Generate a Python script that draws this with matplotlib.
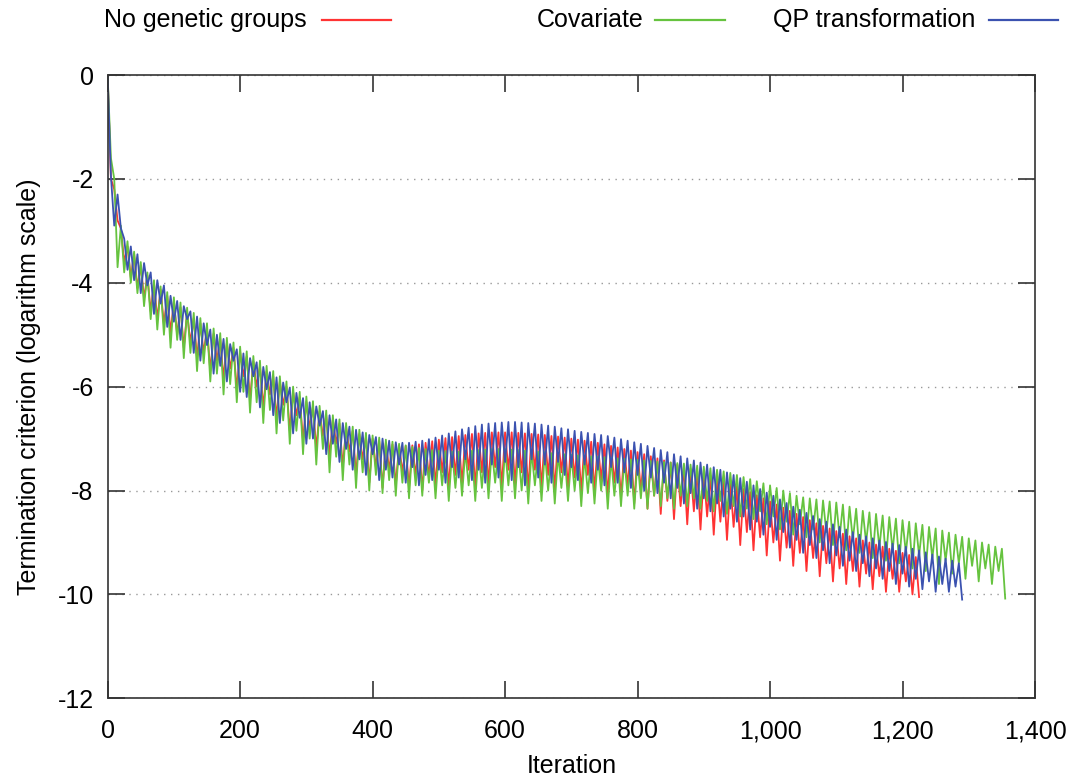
import numpy as np
import matplotlib
matplotlib.use("Agg")
import matplotlib.pyplot as plt
from matplotlib.lines import Line2D
from matplotlib.ticker import FuncFormatter

plt.rcParams['font.family'] = ['Liberation Sans', 'DejaVu Sans']
plt.rcParams['axes.unicode_minus'] = False

step = 5

no_groups = [
    0.00, -2.00, -2.20, -2.80, -2.95, -3.60, -3.30, -3.90, -3.45, -4.10,
    -3.66, -4.30, -3.86, -4.55, -4.02, -4.70, -4.13, -4.80, -4.25, -4.95,
    -4.37, -5.00, -4.47, -5.25, -4.58, -5.15, -4.68, -5.45, -4.78, -5.35,
    -4.88, -5.70, -4.98, -5.50, -5.07, -5.85, -5.16, -5.65, -5.25, -6.05,
    -5.33, -5.80, -5.42, -6.25, -5.51, -6.00, -5.60, -6.40, -5.70, -6.15,
    -5.80, -6.60, -5.90, -6.35, -6.00, -6.85, -6.10, -6.55, -6.20, -7.05,
    -6.29, -6.80, -6.38, -7.20, -6.47, -6.95, -6.55, -7.35, -6.63, -7.10,
    -6.71, -7.55, -6.78, -7.25, -6.85, -7.70, -6.91, -7.40, -6.96, -7.85,
    -7.00, -7.55, -7.04, -7.95, -7.08, -7.60, -7.11, -7.90, -7.13, -7.65,
    -7.14, -7.95, -7.13, -7.70, -7.11, -8.00, -7.08, -7.75, -7.05, -7.90,
    -7.02, -7.65, -6.99, -7.95, -6.97, -7.70, -6.95, -7.90, -6.93, -7.60,
    -6.91, -7.95, -6.90, -7.65, -6.89, -7.90, -6.88, -7.55, -6.88, -7.95,
    -6.88, -7.60, -6.88, -7.90, -6.89, -7.65, -6.90, -8.00, -6.91, -7.60,
    -6.92, -7.95, -6.93, -7.70, -6.95, -8.00, -6.96, -7.65, -6.98, -7.95,
    -7.00, -7.75, -7.02, -8.05, -7.04, -7.70, -7.06, -8.00, -7.08, -7.80,
    -7.11, -8.10, -7.14, -7.85, -7.17, -8.15, -7.20, -7.90, -7.23, -8.25,
    -7.26, -8.00, -7.30, -8.35, -7.34, -8.10, -7.38, -8.45, -7.42, -8.20,
    -7.46, -8.55, -7.50, -8.30, -7.54, -8.65, -7.58, -8.40, -7.62, -8.75,
    -7.66, -8.50, -7.71, -8.85, -7.76, -8.60, -7.81, -8.95, -7.86, -8.70,
    -7.91, -9.05, -7.97, -8.80, -8.03, -9.15, -8.09, -8.90, -8.15, -9.25,
    -8.21, -9.00, -8.27, -9.35, -8.33, -9.10, -8.39, -9.45, -8.45, -9.20,
    -8.51, -9.55, -8.57, -9.30, -8.63, -9.65, -8.68, -9.40, -8.73, -9.75,
    -8.78, -9.50, -8.83, -9.80, -8.88, -9.55, -8.92, -9.85, -8.96, -9.60,
    -9.00, -9.90, -9.04, -9.65, -9.08, -9.95, -9.12, -9.70, -9.16, -9.95,
    -9.20, -9.75, -9.24, -10.00, -9.28, -10.05,
]

covariate = [
    0.00, -1.60, -2.00, -3.70, -2.90, -3.80, -3.20, -4.00, -3.40, -4.20,
    -3.60, -4.45, -3.80, -4.70, -3.95, -4.90, -4.07, -5.00, -4.18, -5.25,
    -4.28, -5.10, -4.38, -5.45, -4.48, -5.35, -4.58, -5.70, -4.68, -5.55,
    -4.78, -5.90, -4.88, -5.75, -4.97, -6.15, -5.06, -5.95, -5.15, -6.30,
    -5.23, -6.10, -5.32, -6.50, -5.41, -6.30, -5.50, -6.70, -5.60, -6.45,
    -5.70, -6.90, -5.80, -6.65, -5.90, -7.10, -6.00, -6.85, -6.10, -7.30,
    -6.19, -7.00, -6.28, -7.50, -6.37, -7.20, -6.46, -7.65, -6.55, -7.35,
    -6.63, -7.80, -6.70, -7.50, -6.77, -7.95, -6.83, -7.65, -6.89, -8.00,
    -6.94, -7.70, -6.98, -8.05, -7.02, -7.80, -7.06, -8.10, -7.10, -7.85,
    -7.13, -8.15, -7.16, -7.90, -7.18, -8.10, -7.20, -7.85, -7.22, -8.15,
    -7.23, -7.90, -7.24, -8.20, -7.25, -7.95, -7.25, -8.10, -7.24, -7.90,
    -7.23, -8.20, -7.22, -7.95, -7.21, -8.15, -7.20, -7.85, -7.20, -8.20,
    -7.20, -7.90, -7.21, -8.15, -7.22, -8.00, -7.23, -8.25, -7.24, -7.90,
    -7.25, -8.20, -7.26, -8.00, -7.28, -8.25, -7.29, -7.95, -7.30, -8.20,
    -7.31, -8.00, -7.32, -8.30, -7.33, -8.05, -7.34, -8.25, -7.35, -8.00,
    -7.36, -8.35, -7.37, -8.10, -7.38, -8.30, -7.39, -8.10, -7.40, -8.35,
    -7.41, -8.15, -7.42, -8.35, -7.43, -8.10, -7.44, -8.30, -7.45, -8.15,
    -7.46, -8.35, -7.47, -8.10, -7.48, -8.30, -7.50, -8.15, -7.52, -8.35,
    -7.54, -8.20, -7.57, -8.40, -7.60, -8.20, -7.63, -8.45, -7.66, -8.30,
    -7.70, -8.50, -7.74, -8.35, -7.78, -8.55, -7.82, -8.40, -7.86, -8.65,
    -7.90, -8.50, -7.95, -8.75, -8.00, -8.60, -8.05, -8.85, -8.10, -8.65,
    -8.13, -8.90, -8.15, -8.75, -8.17, -9.00, -8.19, -8.80, -8.21, -9.05,
    -8.23, -8.90, -8.27, -9.15, -8.31, -8.95, -8.35, -9.20, -8.39, -9.00,
    -8.42, -9.30, -8.45, -9.10, -8.48, -9.35, -8.51, -9.15, -8.54, -9.40,
    -8.57, -9.20, -8.60, -9.50, -8.63, -9.25, -8.66, -9.55, -8.70, -9.30,
    -8.73, -9.80, -8.77, -9.35, -8.81, -9.60, -8.85, -9.40, -8.89, -9.70,
    -8.92, -9.45, -8.96, -9.75, -9.00, -9.50, -9.04, -9.80, -9.08, -9.55,
    -9.12, -10.08,
]

qp_transform = [
    0.00, -1.95, -2.90, -2.30, -2.95, -3.15, -3.75, -3.30, -3.95, -3.45,
    -4.20, -3.62, -4.05, -3.80, -4.60, -3.95, -4.40, -4.05, -4.85, -4.25,
    -4.75, -4.35, -5.10, -4.45, -4.70, -4.55, -5.35, -4.65, -5.50, -4.78,
    -5.20, -4.90, -5.75, -5.00, -5.60, -5.08, -5.90, -5.18, -5.50, -5.28,
    -6.10, -5.36, -6.20, -5.45, -5.80, -5.53, -6.40, -5.62, -6.05, -5.72,
    -6.55, -5.82, -6.70, -5.92, -6.30, -6.02, -6.90, -6.12, -6.60, -6.22,
    -7.10, -6.30, -7.00, -6.38, -6.75, -6.47, -7.30, -6.55, -7.10, -6.63,
    -7.45, -6.70, -7.20, -6.77, -7.60, -6.83, -7.40, -6.88, -7.70, -6.93,
    -7.30, -6.97, -7.80, -7.00, -7.60, -7.04, -7.75, -7.07, -7.50, -7.08,
    -7.85, -7.08, -7.55, -7.06, -7.90, -7.04, -7.70, -7.01, -7.80, -6.98,
    -7.60, -6.94, -7.85, -6.90, -7.55, -6.86, -7.75, -6.82, -7.40, -6.79,
    -7.80, -6.76, -7.60, -6.73, -7.85, -6.71, -7.50, -6.70, -7.75, -6.69,
    -7.45, -6.68, -7.80, -6.68, -7.55, -6.69, -7.90, -6.70, -7.40, -6.71,
    -7.75, -6.73, -7.50, -6.75, -7.85, -6.77, -7.45, -6.80, -7.70, -6.82,
    -7.55, -6.85, -7.80, -6.87, -7.50, -6.89, -7.85, -6.91, -7.60, -6.93,
    -7.90, -6.95, -7.55, -6.98, -7.85, -7.01, -7.65, -7.04, -7.95, -7.07,
    -7.70, -7.10, -8.00, -7.14, -7.75, -7.18, -8.05, -7.22, -7.85, -7.26,
    -8.15, -7.30, -7.95, -7.34, -8.25, -7.38, -8.05, -7.42, -8.35, -7.46,
    -8.15, -7.50, -8.40, -7.55, -8.25, -7.60, -8.50, -7.65, -8.35, -7.70,
    -8.60, -7.76, -8.50, -7.83, -8.75, -7.90, -8.60, -7.97, -8.85, -8.04,
    -8.70, -8.10, -8.95, -8.17, -8.80, -8.24, -9.10, -8.31, -8.95, -8.37,
    -9.20, -8.43, -9.05, -8.49, -9.30, -8.55, -9.15, -8.60, -9.40, -8.65,
    -9.25, -8.70, -9.45, -8.75, -9.35, -8.80, -9.55, -8.85, -9.40, -8.88,
    -9.65, -8.92, -9.50, -8.96, -9.70, -8.99, -9.55, -9.02, -9.80, -9.05,
    -9.60, -9.08, -9.85, -9.12, -9.70, -9.15, -9.90, -9.19, -9.75, -9.23,
    -9.95, -9.27, -9.80, -9.31, -9.95, -9.35, -9.85, -9.40, -10.10,
]

labels = ["No genetic groups", "Covariate", "QP transformation"]
colors = ["#ff3333", "#66c33f", "#3b52b0"]
series = [no_groups, covariate, qp_transform]

fig = plt.figure(figsize=(10.73, 7.84), dpi=100)
ax = fig.add_axes([0.1003, 0.1093, 0.8643, 0.7950])

for vals, col in zip(series, colors):
    it = np.arange(len(vals)) * step
    ax.plot(it, vals, color=col, lw=1.3)

ax.set_xlim(0, 1400)
ax.set_ylim(-12, 0)
ax.set_xticks(range(0, 1401, 200))
ax.set_yticks(range(-12, 1, 2))
ax.xaxis.set_major_formatter(FuncFormatter(lambda v, p: f"{int(v):,}"))
ax.tick_params(direction='in', length=12, width=1.2, labelsize=18,
               top=True, right=True, color='#333333')
ax.tick_params(axis='y', pad=10)
ax.tick_params(axis='x', pad=15)
ax.grid(axis='y', linestyle=(0, (1, 4)), color='#999999', lw=1.0)
for s in ax.spines.values():
    s.set_linewidth(1.2)
    s.set_color('#333333')

ax.set_xlabel("Iteration", fontsize=18, labelpad=8)
ax.set_ylabel("Termination criterion (logarithm scale)", fontsize=18, labelpad=12)

# gnuplot-style key along the top, text right of each sample
text_right = [307, 643, 975]
line_span = [(322, 391), (655, 725), (989, 1058)]
W, H = 1073, 784
for lab, col, tr, (l0, l1) in zip(labels, colors, text_right, line_span):
    fig.text(tr / W, 1 - 20 / H, lab, ha='right', va='center', fontsize=18)
    fig.add_artist(Line2D([l0 / W, l1 / W], [1 - 20 / H, 1 - 20 / H],
                          color=col, lw=1.6, transform=fig.transFigure))

fig.savefig("out.png", dpi=100)
